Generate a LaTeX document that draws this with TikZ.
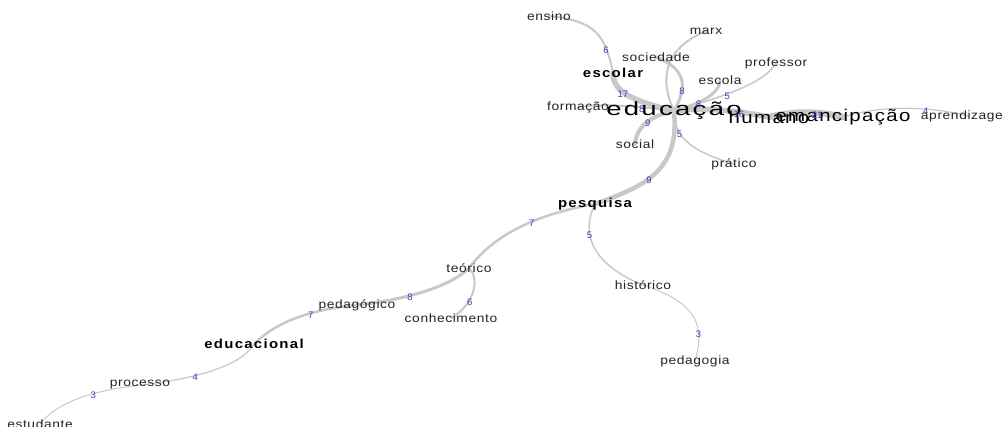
\documentclass[tikz,border=0pt]{standalone}
\usepackage{fontspec}
\setmainfont{Liberation Sans}
\usepackage{tikz}
\usetikzlibrary{backgrounds}
\definecolor{linkgray}{RGB}{200,200,200}
\definecolor{wtblue}{RGB}{60,60,190}
\definecolor{wordgray}{RGB}{35,35,35}

\begin{document}
\begin{tikzpicture}[x=1pt, y=-1pt,
    word/.style={inner sep=0pt, text=wordgray,
        font={\fontsize{12}{12}\selectfont\addfontfeature{FakeStretch=1.15,LetterSpace=5}}},
    keyword/.style={inner sep=0pt, text=black,
        font={\fontsize{13}{13}\selectfont\bfseries\addfontfeature{FakeStretch=1.15,LetterSpace=10}}},
    bigword/.style={inner sep=0pt, text=black,
        font={\fontsize{17}{17}\selectfont\addfontfeature{FakeStretch=1.2,LetterSpace=8}}},
    hubword/.style={inner sep=0pt, text=black,
        font={\fontsize{19}{19}\selectfont\addfontfeature{FakeStretch=1.45,LetterSpace=12}}},
    link/.style={draw=linkgray, line cap=round},
    wt/.style={inner sep=0pt, text=wtblue, font=\fontsize{9.5}{9.5}\selectfont}
]
\useasboundingbox (0,0) rectangle (1004,426);

\node[hubword] (edu) at (674,111) {educação};
\node[bigword] (humano) at (769,117) {humano};
\node[bigword] (emanc) at (843,117) {emancipação};
\node[word] (aprend) at (968,116) {aprendizagem};
\node[keyword] (escolar) at (613,73) {escolar};
\node[word] (ensino) at (549,16) {ensino};
\node[word] (marx) at (706,31) {marx};
\node[word] (soc) at (656,57) {sociedade};
\node[word] (escola) at (720,80) {escola};
\node[word] (prof) at (776,63) {professor};
\node[word] (form) at (578,107) {formação};
\node[word] (social) at (635,144) {social};
\node[word] (pratico) at (734,164) {prático};
\node[keyword] (pesq) at (595,204) {pesquisa};
\node[word] (teor) at (469,268) {teórico};
\node[word] (hist) at (643,285) {histórico};
\node[word] (conh) at (451,318) {conhecimento};
\node[word] (pedagogia) at (695,361) {pedagogia};
\node[word] (pedag) at (357,305) {pedagógico};
\node[keyword] (educac) at (254,344) {educacional};
\node[word] (proc) at (140,385) {processo};
\node[word] (estud) at (40,424) {estudante};

\begin{scope}[on background layer]
\draw[link, line width=2] (ensino.center) .. controls +(45,5) and +(-8,-40) .. coordinate[pos=0.75] (w1) (escolar.center);
\draw[link, line width=5.5] (escolar.center) .. controls +(0,20) and +(-40,-10) .. coordinate[pos=0.4] (w2) (edu.center);
\draw[link, line width=2] (marx.center) .. controls +(-35,15) and +(-18,-40) .. (edu.center);
\draw[link, line width=3] (soc.center) .. controls +(30,12) and +(14,-25) .. coordinate[pos=0.68] (w3) (edu.center);
\draw[link, line width=3] (escola.center) .. controls +(0,15) and +(22,-6) .. coordinate[pos=0.62] (w4) (edu.center);
\draw[link, line width=1.5] (prof.center) .. controls +(-12,22) and +(40,-12) .. coordinate[pos=0.57] (w5) (edu.center);
\draw[link, line width=2] (form.center) .. controls +(30,-4) and +(-30,-4) .. coordinate[pos=0.66] (w6) (edu.center);
\draw[link, line width=4] (edu.center) .. controls +(-20,4) and +(2,-20) .. coordinate[pos=0.5] (w7) (social.center);
\draw[link, line width=1.5] (edu.center) .. controls +(0,28) and +(-40,-12) .. coordinate[pos=0.3] (w8) (pratico.center);
\draw[link, line width=4.5] (edu.center) .. controls +(6,60) and +(50,-18) .. coordinate[pos=0.57] (w9) (pesq.center);
\draw[link, line width=5.5] (edu.center) .. controls +(30,-4) and +(-30,-6) .. coordinate[pos=0.68] (w10) (humano.center);
\draw[link, line width=6.5] (humano.center) .. controls +(25,-6) and +(-25,-6) .. coordinate[pos=0.65] (w11) (emanc.center);
\draw[link, line width=1.2] (emanc.center) .. controls +(40,-12) and +(-40,-10) .. coordinate[pos=0.66] (w12) (aprend.center);
\draw[link, line width=2.5] (pesq.center) .. controls +(-45,8) and +(30,-40) .. coordinate[pos=0.46] (w13) (teor.center);
\draw[link, line width=1.5] (pesq.center) .. controls +(-15,30) and +(-50,-20) .. coordinate[pos=0.33] (w14) (hist.center);
\draw[link, line width=1] (hist.center) .. controls +(55,18) and +(10,-35) .. coordinate[pos=0.7] (w15) (pedagogia.center);
\draw[link, line width=3] (teor.center) .. controls +(-20,20) and +(45,-5) .. coordinate[pos=0.6] (w16) (pedag.center);
\draw[link, line width=2] (teor.center) .. controls +(12,12) and +(22,-12) .. coordinate[pos=0.62] (w17) (conh.center);
\draw[link, line width=2.5] (pedag.center) .. controls +(-40,4) and +(25,-25) .. coordinate[pos=0.4] (w18) (educac.center);
\draw[link, line width=1.2] (educac.center) .. controls +(-15,25) and +(45,-5) .. coordinate[pos=0.6] (w19) (proc.center);
\draw[link, line width=1] (proc.center) .. controls +(-40,5) and +(20,-25) .. coordinate[pos=0.4] (w20) (estud.center);
\end{scope}

\foreach \c/\n in {w1/6, w2/17, w3/8, w4/8, w5/5, w6/8, w7/9, w8/5, w9/9, w10/16,
    w11/21, w12/4, w13/7, w14/5, w15/3, w16/8, w17/6, w18/7, w19/4, w20/3}
    \node[wt] (l\c) at ([yshift=-2pt]\c) {\n};
\end{tikzpicture}
\end{document}
